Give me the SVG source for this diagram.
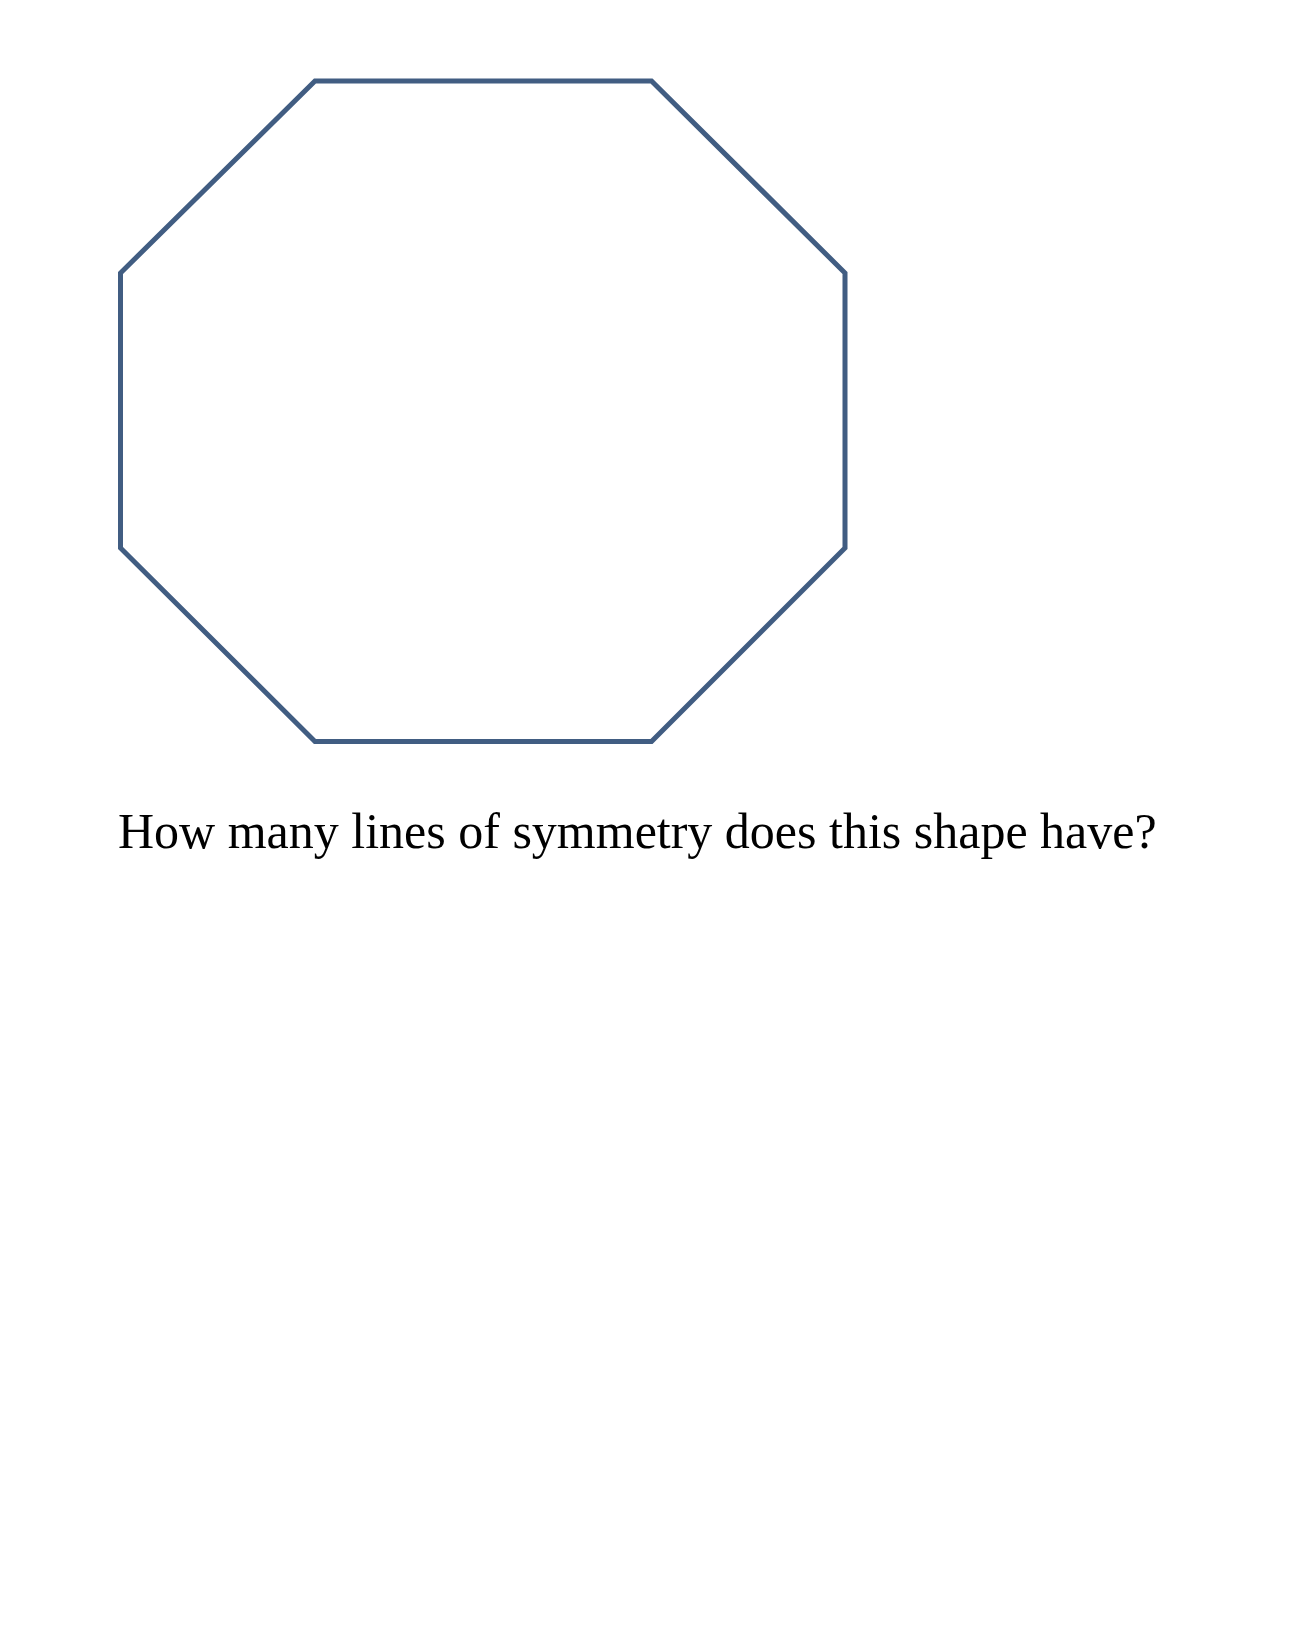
<svg xmlns="http://www.w3.org/2000/svg" width="1298" height="1652" viewBox="0 0 1298 1652">
<style>
.shape{fill:#ffffff;stroke:#415d82;stroke-width:5;stroke-linejoin:miter}
.q{font-family:"Liberation Serif","Times New Roman",serif;font-size:50px;fill:#000000}
</style>
<rect x="0" y="0" width="1298" height="1652" fill="#ffffff"/>
<g id="octagon">
<polygon class="shape" points="315,81 651.5,81 845,273 845,548 651.5,741.5 315,741.5 120.5,548 120.5,273"/>
</g>
<g id="question">
<text class="q" x="118" y="848">How many lines of symmetry does this shape have?</text>
</g>
</svg>
